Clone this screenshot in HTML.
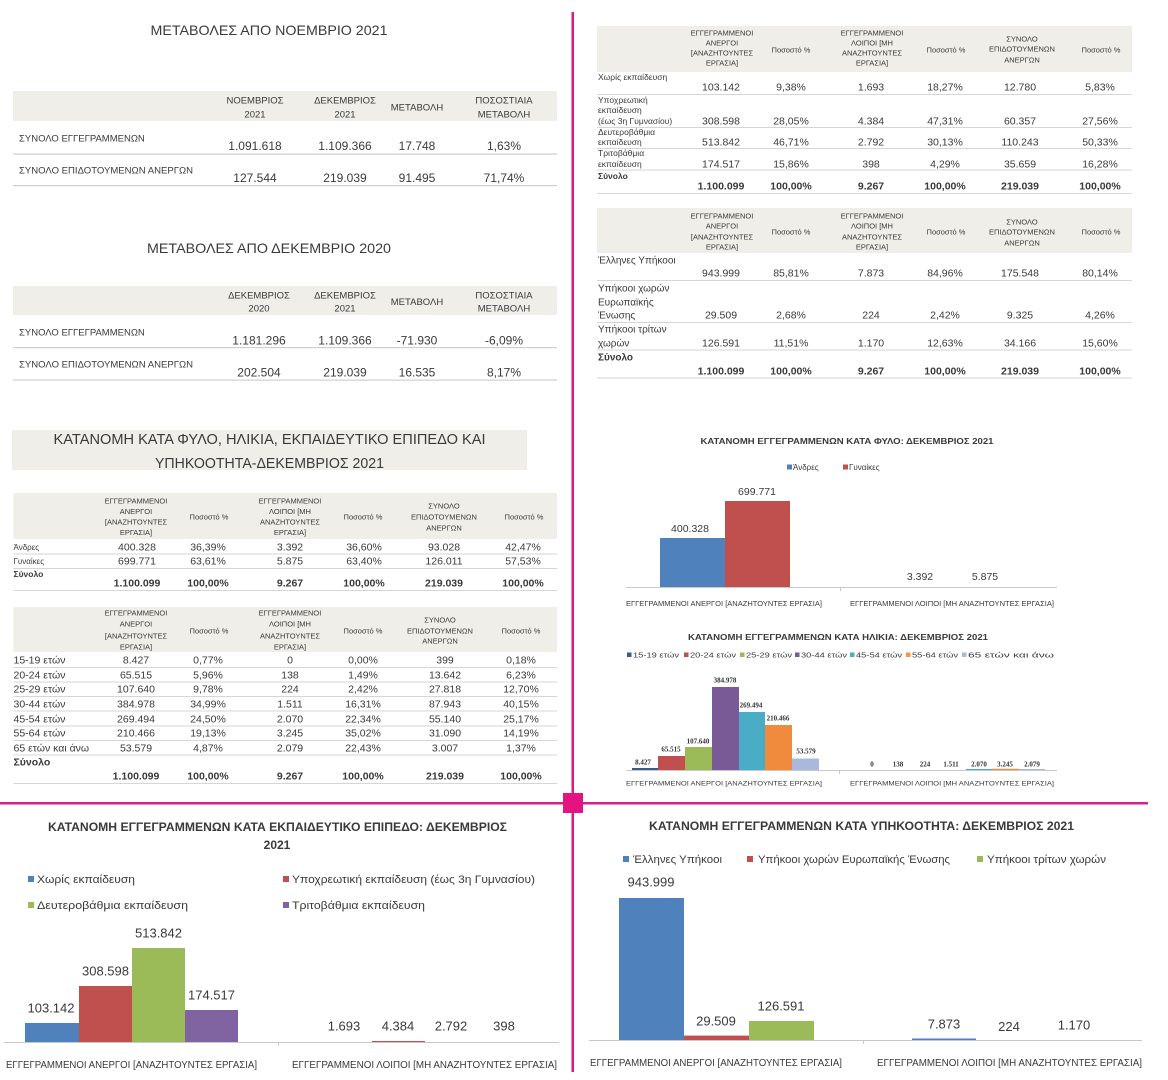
<!DOCTYPE html>
<html><head><meta charset="utf-8"><style>
html,body{margin:0;padding:0;background:#fff}
svg{display:block}
text{font-family:"Liberation Sans","DejaVu Sans",sans-serif;fill:#3a3a3a}
.c{text-anchor:middle}
.h{font-size:7.5px}
.v{font-size:10.5px}
.b{font-weight:bold}
.l{font-size:8.5px}
.s{font-family:"Liberation Serif","DejaVu Serif",serif;font-weight:bold;font-size:7px;fill:#333}
</style></head><body>
<svg width="1168" height="1080" viewBox="0 0 1168 1080" xmlns="http://www.w3.org/2000/svg">
<rect width="1168" height="1080" fill="#fff"/>

<!-- ===== TOP LEFT TABLE 1 ===== -->
<text x="269" y="35" class="c" font-size="14" textLength="237" lengthAdjust="spacingAndGlyphs">ΜΕΤΑΒΟΛΕΣ ΑΠΟ ΝΟΕΜΒΡΙΟ 2021</text>
<rect x="13" y="91" width="544" height="30" fill="#efeee8"/>
<g font-size="9.5" class="c">
<text x="255" y="103.5" class="c">ΝΟΕΜΒΡΙΟΣ</text><text x="255" y="117.5" class="c">2021</text>
<text x="345" y="103.5" class="c">ΔΕΚΕΜΒΡΙΟΣ</text><text x="345" y="117.5" class="c">2021</text>
<text x="417" y="110.5" class="c">ΜΕΤΑΒΟΛΗ</text>
<text x="504" y="103.5" class="c">ΠΟΣΟΣΤΙΑΙΑ</text><text x="504" y="117.5" class="c">ΜΕΤΑΒΟΛΗ</text>
</g>
<text x="19" y="141.5" font-size="9.5">ΣΥΝΟΛΟ ΕΓΓΕΓΡΑΜΜΕΝΩΝ</text>
<g font-size="12">
<text x="255" y="150" class="c">1.091.618</text><text x="345" y="150" class="c">1.109.366</text><text x="417" y="150" class="c">17.748</text><text x="504" y="150" class="c">1,63%</text>
</g>
<rect x="13" y="153.5" width="544" height="1.2" fill="#cfcfcf"/>
<text x="19" y="173.5" font-size="9.5" textLength="174" lengthAdjust="spacingAndGlyphs">ΣΥΝΟΛΟ ΕΠΙΔΟΤΟΥΜΕΝΩΝ ΑΝΕΡΓΩΝ</text>
<g font-size="12">
<text x="255" y="182" class="c">127.544</text><text x="345" y="182" class="c">219.039</text><text x="417" y="182" class="c">91.495</text><text x="504" y="182" class="c">71,74%</text>
</g>
<rect x="13" y="185" width="544" height="1.2" fill="#cfcfcf"/>

<!-- ===== TABLE 2 ===== -->
<text x="269" y="253" class="c" font-size="14" textLength="244" lengthAdjust="spacingAndGlyphs">ΜΕΤΑΒΟΛΕΣ ΑΠΟ ΔΕΚΕΜΒΡΙΟ 2020</text>
<rect x="13" y="286" width="544" height="29" fill="#efeee8"/>
<g font-size="9.5">
<text x="259" y="298.5" class="c">ΔΕΚΕΜΒΡΙΟΣ</text><text x="259" y="311.5" class="c">2020</text>
<text x="345" y="298.5" class="c">ΔΕΚΕΜΒΡΙΟΣ</text><text x="345" y="311.5" class="c">2021</text>
<text x="417" y="305" class="c">ΜΕΤΑΒΟΛΗ</text>
<text x="504" y="298.5" class="c">ΠΟΣΟΣΤΙΑΙΑ</text><text x="504" y="311.5" class="c">ΜΕΤΑΒΟΛΗ</text>
</g>
<text x="19" y="335.5" font-size="9.5">ΣΥΝΟΛΟ ΕΓΓΕΓΡΑΜΜΕΝΩΝ</text>
<g font-size="12">
<text x="259" y="344.3" class="c">1.181.296</text><text x="345" y="344.3" class="c">1.109.366</text><text x="417" y="344.3" class="c">-71.930</text><text x="504" y="344.3" class="c">-6,09%</text>
</g>
<rect x="13" y="347" width="544" height="1.2" fill="#cfcfcf"/>
<text x="19" y="367.5" font-size="9.5" textLength="174" lengthAdjust="spacingAndGlyphs">ΣΥΝΟΛΟ ΕΠΙΔΟΤΟΥΜΕΝΩΝ ΑΝΕΡΓΩΝ</text>
<g font-size="12">
<text x="259" y="376.3" class="c">202.504</text><text x="345" y="376.3" class="c">219.039</text><text x="417" y="376.3" class="c">16.535</text><text x="504" y="376.3" class="c">8,17%</text>
</g>
<rect x="13" y="379.5" width="544" height="1.2" fill="#cfcfcf"/>

<!-- ===== SECTION 3 TITLE ===== -->
<rect x="12" y="430" width="515" height="40" fill="#efeee8"/>
<text x="269.5" y="444" class="c" font-size="14.5" textLength="432" lengthAdjust="spacingAndGlyphs">ΚΑΤΑΝΟΜΗ ΚΑΤΑ ΦΥΛΟ, ΗΛΙΚΙΑ, ΕΚΠΑΙΔΕΥΤΙΚΟ ΕΠΙΠΕΔΟ ΚΑΙ</text>
<text x="269.5" y="468" class="c" font-size="14.5" textLength="229" lengthAdjust="spacingAndGlyphs">ΥΠΗΚΟΟΤΗΤΑ-ΔΕΚΕΜΒΡΙΟΣ 2021</text>

<!-- ===== TABLE A (sex) ===== -->
<rect x="13.5" y="493" width="543.5" height="46" fill="#efeee8"/>
<g class="h">
<text x="136" y="503.7" class="c">ΕΓΓΕΓΡΑΜΜΕΝΟΙ</text><text x="136" y="514.2" class="c">ΑΝΕΡΓΟΙ</text><text x="136" y="524.7" class="c">[ΑΝΑΖΗΤΟΥΝΤΕΣ</text><text x="136" y="535.2" class="c">ΕΡΓΑΣΙΑ]</text>
<text x="209" y="519.7" class="c">Ποσοστό %</text>
<text x="290" y="503.7" class="c">ΕΓΓΕΓΡΑΜΜΕΝΟΙ</text><text x="290" y="514.2" class="c">ΛΟΙΠΟΙ [ΜΗ</text><text x="290" y="524.7" class="c">ΑΝΑΖΗΤΟΥΝΤΕΣ</text><text x="290" y="535.2" class="c">ΕΡΓΑΣΙΑ]</text>
<text x="363" y="519.7" class="c">Ποσοστό %</text>
<text x="444" y="508.7" class="c">ΣΥΝΟΛΟ</text><text x="444" y="519.7" class="c">ΕΠΙΔΟΤΟΥΜΕΝΩΝ</text><text x="444" y="530.7" class="c">ΑΝΕΡΓΩΝ</text>
<text x="524" y="519.7" class="c">Ποσοστό %</text>
</g>
<text x="13.5" y="550" font-size="8">Άνδρες</text>
<g class="v">
<text x="137" y="550.7" class="c">400.328</text><text x="208" y="550.7" class="c">36,39%</text><text x="290" y="550.7" class="c">3.392</text><text x="364" y="550.7" class="c">36,60%</text><text x="444" y="550.7" class="c">93.028</text><text x="523" y="550.7" class="c">42,47%</text>
</g>
<rect x="13.5" y="553.5" width="543.5" height="1" fill="#d6d6d6"/>
<text x="13.5" y="564" font-size="8">Γυναίκες</text>
<g class="v">
<text x="137" y="564.7" class="c">699.771</text><text x="208" y="564.7" class="c">63,61%</text><text x="290" y="564.7" class="c">5.875</text><text x="364" y="564.7" class="c">63,40%</text><text x="444" y="564.7" class="c">126.011</text><text x="523" y="564.7" class="c">57,53%</text>
</g>
<rect x="13.5" y="568" width="543.5" height="1" fill="#d6d6d6"/>
<text x="13.5" y="577" font-size="8.5" class="b">Σύνολο</text>
<g class="v b">
<text x="137" y="586.7" class="c">1.100.099</text><text x="208" y="586.7" class="c">100,00%</text><text x="290" y="586.7" class="c">9.267</text><text x="364" y="586.7" class="c">100,00%</text><text x="444" y="586.7" class="c">219.039</text><text x="523" y="586.7" class="c">100,00%</text>
</g>
<rect x="13.5" y="590" width="543.5" height="1" fill="#d6d6d6"/>

<!-- ===== TABLE B (age) ===== -->
<rect x="13.5" y="607" width="543.5" height="45" fill="#efeee8"/>
<g class="h">
<text x="136" y="615.7" class="c">ΕΓΓΕΓΡΑΜΜΕΝΟΙ</text><text x="136" y="626.7" class="c">ΑΝΕΡΓΟΙ</text><text x="136" y="638.7" class="c">[ΑΝΑΖΗΤΟΥΝΤΕΣ</text><text x="136" y="649.7" class="c">ΕΡΓΑΣΙΑ]</text>
<text x="209" y="633.7" class="c">Ποσοστό %</text>
<text x="290" y="615.7" class="c">ΕΓΓΕΓΡΑΜΜΕΝΟΙ</text><text x="290" y="626.7" class="c">ΛΟΙΠΟΙ [ΜΗ</text><text x="290" y="638.7" class="c">ΑΝΑΖΗΤΟΥΝΤΕΣ</text><text x="290" y="649.7" class="c">ΕΡΓΑΣΙΑ]</text>
<text x="363" y="633.7" class="c">Ποσοστό %</text>
<text x="440" y="622.7" class="c">ΣΥΝΟΛΟ</text><text x="440" y="633.7" class="c">ΕΠΙΔΟΤΟΥΜΕΝΩΝ</text><text x="440" y="643.7" class="c">ΑΝΕΡΓΩΝ</text>
<text x="521" y="633.7" class="c">Ποσοστό %</text>
</g>
<g font-size="10.5">
<text x="13.5" y="663.7">15-19  ετών</text>
<text x="13.5" y="678.7">20-24  ετών</text>
<text x="13.5" y="692.7">25-29 ετών</text>
<text x="13.5" y="707.7">30-44  ετών</text>
<text x="13.5" y="722.7">45-54 ετών</text>
<text x="13.5" y="736.7">55-64 ετών</text>
<text x="13.5" y="751.7">65 ετών και άνω</text>
<text x="13.5" y="765.7" class="b">Σύνολο</text>
</g>
<g class="v">
<text x="136" y="663.7" class="c">8.427</text><text x="208" y="663.7" class="c">0,77%</text><text x="290" y="663.7" class="c">0</text><text x="363" y="663.7" class="c">0,00%</text><text x="445" y="663.7" class="c">399</text><text x="521" y="663.7" class="c">0,18%</text>
<text x="136" y="678.7" class="c">65.515</text><text x="208" y="678.7" class="c">5,96%</text><text x="290" y="678.7" class="c">138</text><text x="363" y="678.7" class="c">1,49%</text><text x="445" y="678.7" class="c">13.642</text><text x="521" y="678.7" class="c">6,23%</text>
<text x="136" y="692.7" class="c">107.640</text><text x="208" y="692.7" class="c">9,78%</text><text x="290" y="692.7" class="c">224</text><text x="363" y="692.7" class="c">2,42%</text><text x="445" y="692.7" class="c">27.818</text><text x="521" y="692.7" class="c">12,70%</text>
<text x="136" y="707.7" class="c">384.978</text><text x="208" y="707.7" class="c">34,99%</text><text x="290" y="707.7" class="c">1.511</text><text x="363" y="707.7" class="c">16,31%</text><text x="445" y="707.7" class="c">87.943</text><text x="521" y="707.7" class="c">40,15%</text>
<text x="136" y="722.7" class="c">269.494</text><text x="208" y="722.7" class="c">24,50%</text><text x="290" y="722.7" class="c">2.070</text><text x="363" y="722.7" class="c">22,34%</text><text x="445" y="722.7" class="c">55.140</text><text x="521" y="722.7" class="c">25,17%</text>
<text x="136" y="736.7" class="c">210.466</text><text x="208" y="736.7" class="c">19,13%</text><text x="290" y="736.7" class="c">3.245</text><text x="363" y="736.7" class="c">35,02%</text><text x="445" y="736.7" class="c">31.090</text><text x="521" y="736.7" class="c">14,19%</text>
<text x="136" y="751.7" class="c">53.579</text><text x="208" y="751.7" class="c">4,87%</text><text x="290" y="751.7" class="c">2.079</text><text x="363" y="751.7" class="c">22,43%</text><text x="445" y="751.7" class="c">3.007</text><text x="521" y="751.7" class="c">1,37%</text>
</g>
<g class="v b">
<text x="136" y="779.7" class="c">1.100.099</text><text x="208" y="779.7" class="c">100,00%</text><text x="290" y="779.7" class="c">9.267</text><text x="363" y="779.7" class="c">100,00%</text><text x="445" y="779.7" class="c">219.039</text><text x="521" y="779.7" class="c">100,00%</text>
</g>
<g fill="#d6d6d6">
<rect x="13.5" y="667" width="543.5" height="1"/><rect x="13.5" y="681.5" width="543.5" height="1"/><rect x="13.5" y="696" width="543.5" height="1"/><rect x="13.5" y="710.5" width="543.5" height="1"/><rect x="13.5" y="725.5" width="543.5" height="1"/><rect x="13.5" y="740" width="543.5" height="1"/><rect x="13.5" y="754.5" width="543.5" height="1"/><rect x="13.5" y="783" width="543.5" height="1"/>
</g>

<!-- ===== TOP RIGHT TABLE R1 (education) ===== -->
<rect x="597" y="26" width="535" height="46" fill="#efeee8"/>
<g class="h">
<text x="722" y="35.7" class="c">ΕΓΓΕΓΡΑΜΜΕΝΟΙ</text><text x="722" y="45.7" class="c">ΑΝΕΡΓΟΙ</text><text x="722" y="55.7" class="c">[ΑΝΑΖΗΤΟΥΝΤΕΣ</text><text x="722" y="65.7" class="c">ΕΡΓΑΣΙΑ]</text>
<text x="791" y="52.7" class="c">Ποσοστό %</text>
<text x="872" y="35.7" class="c">ΕΓΓΕΓΡΑΜΜΕΝΟΙ</text><text x="872" y="45.7" class="c">ΛΟΙΠΟΙ [ΜΗ</text><text x="872" y="55.7" class="c">ΑΝΑΖΗΤΟΥΝΤΕΣ</text><text x="872" y="65.7" class="c">ΕΡΓΑΣΙΑ]</text>
<text x="946" y="52.7" class="c">Ποσοστό %</text>
<text x="1022" y="41.7" class="c">ΣΥΝΟΛΟ</text><text x="1022" y="51.7" class="c">ΕΠΙΔΟΤΟΥΜΕΝΩΝ</text><text x="1022" y="62.7" class="c">ΑΝΕΡΓΩΝ</text>
<text x="1101" y="52.7" class="c">Ποσοστό %</text>
</g>
<g class="l">
<text x="598" y="80">Χωρίς εκπαίδευση</text>
<text x="598" y="103">Υποχρεωτική</text><text x="598" y="113">εκπαίδευση</text><text x="598" y="124">(έως 3η Γυμνασίου)</text>
<text x="598" y="135">Δευτεροβάθμια</text><text x="598" y="145">εκπαίδευση</text>
<text x="598" y="156">Τριτοβάθμια</text><text x="598" y="167">εκπαίδευση</text>
<text x="598" y="179" class="b">Σύνολο</text>
</g>
<g class="v">
<text x="721" y="90.7" class="c">103.142</text><text x="791" y="90.7" class="c">9,38%</text><text x="871" y="90.7" class="c">1.693</text><text x="945" y="90.7" class="c">18,27%</text><text x="1020" y="90.7" class="c">12.780</text><text x="1100" y="90.7" class="c">5,83%</text>
<text x="721" y="124.7" class="c">308.598</text><text x="791" y="124.7" class="c">28,05%</text><text x="871" y="124.7" class="c">4.384</text><text x="945" y="124.7" class="c">47,31%</text><text x="1020" y="124.7" class="c">60.357</text><text x="1100" y="124.7" class="c">27,56%</text>
<text x="721" y="145.7" class="c">513.842</text><text x="791" y="145.7" class="c">46,71%</text><text x="871" y="145.7" class="c">2.792</text><text x="945" y="145.7" class="c">30,13%</text><text x="1020" y="145.7" class="c">110.243</text><text x="1100" y="145.7" class="c">50,33%</text>
<text x="721" y="167.7" class="c">174.517</text><text x="791" y="167.7" class="c">15,86%</text><text x="871" y="167.7" class="c">398</text><text x="945" y="167.7" class="c">4,29%</text><text x="1020" y="167.7" class="c">35.659</text><text x="1100" y="167.7" class="c">16,28%</text>
</g>
<g class="v b">
<text x="721" y="189.7" class="c">1.100.099</text><text x="791" y="189.7" class="c">100,00%</text><text x="871" y="189.7" class="c">9.267</text><text x="945" y="189.7" class="c">100,00%</text><text x="1020" y="189.7" class="c">219.039</text><text x="1100" y="189.7" class="c">100,00%</text>
</g>
<g fill="#d6d6d6">
<rect x="597" y="94" width="535" height="1"/><rect x="597" y="127" width="535" height="1"/><rect x="597" y="148" width="535" height="1"/><rect x="597" y="169.5" width="535" height="1"/><rect x="597" y="193" width="535" height="1"/>
</g>

<!-- ===== TABLE R2 (nationality) ===== -->
<rect x="597" y="208" width="535" height="45" fill="#efeee8"/>
<g class="h">
<text x="722" y="218.7" class="c">ΕΓΓΕΓΡΑΜΜΕΝΟΙ</text><text x="722" y="228.7" class="c">ΑΝΕΡΓΟΙ</text><text x="722" y="239.7" class="c">[ΑΝΑΖΗΤΟΥΝΤΕΣ</text><text x="722" y="249.7" class="c">ΕΡΓΑΣΙΑ]</text>
<text x="791" y="234.7" class="c">Ποσοστό %</text>
<text x="872" y="218.7" class="c">ΕΓΓΕΓΡΑΜΜΕΝΟΙ</text><text x="872" y="228.7" class="c">ΛΟΙΠΟΙ [ΜΗ</text><text x="872" y="239.7" class="c">ΑΝΑΖΗΤΟΥΝΤΕΣ</text><text x="872" y="249.7" class="c">ΕΡΓΑΣΙΑ]</text>
<text x="946" y="234.7" class="c">Ποσοστό %</text>
<text x="1022" y="224.7" class="c">ΣΥΝΟΛΟ</text><text x="1022" y="234.7" class="c">ΕΠΙΔΟΤΟΥΜΕΝΩΝ</text><text x="1022" y="245.7" class="c">ΑΝΕΡΓΩΝ</text>
<text x="1101" y="234.7" class="c">Ποσοστό %</text>
</g>
<g font-size="10">
<text x="598" y="263.5">Έλληνες Υπήκοοι</text>
<text x="598" y="291.5">Υπήκοοι χωρών</text><text x="598" y="305.5">Ευρωπαϊκής</text><text x="598" y="318.5">Ένωσης</text>
<text x="598" y="332.5">Υπήκοοι τρίτων</text><text x="598" y="346.5">χωρών</text>
<text x="598" y="360.5" class="b">Σύνολο</text>
</g>
<g class="v">
<text x="721" y="276.7" class="c">943.999</text><text x="791" y="276.7" class="c">85,81%</text><text x="871" y="276.7" class="c">7.873</text><text x="945" y="276.7" class="c">84,96%</text><text x="1020" y="276.7" class="c">175.548</text><text x="1100" y="276.7" class="c">80,14%</text>
<text x="721" y="318.7" class="c">29.509</text><text x="791" y="318.7" class="c">2,68%</text><text x="871" y="318.7" class="c">224</text><text x="945" y="318.7" class="c">2,42%</text><text x="1020" y="318.7" class="c">9.325</text><text x="1100" y="318.7" class="c">4,26%</text>
<text x="721" y="346.7" class="c">126.591</text><text x="791" y="346.7" class="c">11,51%</text><text x="871" y="346.7" class="c">1.170</text><text x="945" y="346.7" class="c">12,63%</text><text x="1020" y="346.7" class="c">34.166</text><text x="1100" y="346.7" class="c">15,60%</text>
</g>
<g class="v b">
<text x="721" y="374.7" class="c">1.100.099</text><text x="791" y="374.7" class="c">100,00%</text><text x="871" y="374.7" class="c">9.267</text><text x="945" y="374.7" class="c">100,00%</text><text x="1020" y="374.7" class="c">219.039</text><text x="1100" y="374.7" class="c">100,00%</text>
</g>
<g fill="#d6d6d6">
<rect x="597" y="280" width="535" height="1"/><rect x="597" y="322" width="535" height="1"/><rect x="597" y="349.5" width="535" height="1"/><rect x="597" y="377.5" width="535" height="1"/>
</g>

<!-- ===== CHART: SEX ===== -->
<text x="847" y="444" class="c b" font-size="8.5" textLength="293" lengthAdjust="spacingAndGlyphs">ΚΑΤΑΝΟΜΗ ΕΓΓΕΓΡΑΜΜΕΝΩΝ ΚΑΤΑ ΦΥΛΟ: ΔΕΚΕΜΒΡΙΟΣ 2021</text>
<rect x="787" y="464.5" width="5" height="5" fill="#4f81bd"/>
<text x="793" y="470" font-size="8">Άνδρες</text>
<rect x="843" y="464.5" width="5" height="5" fill="#c0504d"/>
<text x="849" y="470" font-size="8">Γυναίκες</text>
<rect x="660" y="538" width="65" height="49" fill="#4f81bd"/>
<rect x="725" y="501" width="65" height="86" fill="#c0504d"/>
<text x="690" y="532" class="c" font-size="10.5" fill="#444">400.328</text>
<text x="757" y="495" class="c" font-size="10.5">699.771</text>
<text x="920" y="580" class="c" font-size="10.5">3.392</text>
<text x="985" y="580" class="c" font-size="10.5">5.875</text>
<rect x="626" y="587" width="431" height="1" fill="#c8c8c8"/>
<rect x="840" y="587" width="1" height="4" fill="#c8c8c8"/>
<text x="626" y="606" font-size="7.5" textLength="196" lengthAdjust="spacingAndGlyphs">ΕΓΓΕΓΡΑΜΜΕΝΟΙ ΑΝΕΡΓΟΙ [ΑΝΑΖΗΤΟΥΝΤΕΣ ΕΡΓΑΣΙΑ]</text>
<text x="850" y="606" font-size="7.5" textLength="204" lengthAdjust="spacingAndGlyphs">ΕΓΓΕΓΡΑΜΜΕΝΟΙ ΛΟΙΠΟΙ [ΜΗ ΑΝΑΖΗΤΟΥΝΤΕΣ ΕΡΓΑΣΙΑ]</text>

<!-- ===== CHART: AGE ===== -->
<text x="838" y="640" class="c b" font-size="8" textLength="300" lengthAdjust="spacingAndGlyphs">ΚΑΤΑΝΟΜΗ ΕΓΓΕΓΡΑΜΜΕΝΩΝ ΚΑΤΑ ΗΛΙΚΙΑ: ΔΕΚΕΜΒΡΙΟΣ  2021</text>
<g font-size="7">
<rect x="627" y="652.5" width="4.5" height="4.5" fill="#3b5b87"/><text x="633" y="657.5" textLength="46" lengthAdjust="spacingAndGlyphs">15-19 ετών</text>
<rect x="684" y="652.5" width="4.5" height="4.5" fill="#c0504d"/><text x="690" y="657.5" textLength="46" lengthAdjust="spacingAndGlyphs">20-24 ετών</text>
<rect x="740" y="652.5" width="4.5" height="4.5" fill="#9bbb59"/><text x="746" y="657.5" textLength="46" lengthAdjust="spacingAndGlyphs">25-29 ετών</text>
<rect x="795" y="652.5" width="4.5" height="4.5" fill="#7a5a96"/><text x="801" y="657.5" textLength="46" lengthAdjust="spacingAndGlyphs">30-44 ετών</text>
<rect x="850" y="652.5" width="4.5" height="4.5" fill="#4bacc6"/><text x="856" y="657.5" textLength="46" lengthAdjust="spacingAndGlyphs">45-54 ετών</text>
<rect x="906" y="652.5" width="4.5" height="4.5" fill="#f79646"/><text x="912" y="657.5" textLength="46" lengthAdjust="spacingAndGlyphs">55-64 ετών</text>
<rect x="962" y="652.5" width="4.5" height="4.5" fill="#a9b9dc"/><text x="968" y="657.5" textLength="86" lengthAdjust="spacingAndGlyphs">65 ετών και άνω</text>
</g>
<rect x="632" y="768" width="26" height="2" fill="#3b5b87"/>
<rect x="658" y="756" width="27" height="14" fill="#c0504d"/>
<rect x="685" y="747" width="27" height="23" fill="#9bbb59"/>
<rect x="712" y="687" width="27" height="83" fill="#7a5a96"/>
<rect x="739" y="712" width="26" height="58" fill="#4bacc6"/>
<rect x="765" y="725" width="27" height="45" fill="#f08a3c"/>
<rect x="792" y="758.5" width="27" height="11.5" fill="#a9b9dc"/>
<rect x="966" y="769" width="26" height="1" fill="#4bacc6"/>
<rect x="992" y="768.8" width="27" height="1.2" fill="#f08a3c"/>
<rect x="1019" y="769" width="26" height="1" fill="#a9b9dc"/>
<text x="643" y="764.5" class="c s">8.427</text>
<text x="671" y="751.5" class="c s">65.515</text>
<text x="698" y="743.5" class="c s">107.640</text>
<text x="725" y="682.5" class="c s">384.978</text>
<text x="751" y="707.5" class="c s">269.494</text>
<text x="778" y="720.5" class="c s">210.466</text>
<text x="806" y="753.5" class="c s">53.579</text>
<text x="872" y="766.5" class="c s">0</text>
<text x="898" y="766.5" class="c s">138</text>
<text x="925" y="766.5" class="c s">224</text>
<text x="951" y="766.5" class="c s">1.511</text>
<text x="979" y="766.5" class="c s">2.070</text>
<text x="1005" y="766.5" class="c s">3.245</text>
<text x="1032" y="766.5" class="c s">2.079</text>
<rect x="626" y="770" width="431" height="1" fill="#c8c8c8"/>
<rect x="839" y="770" width="1" height="4" fill="#c8c8c8"/>
<text x="626" y="785.5" font-size="6.8" textLength="196" lengthAdjust="spacingAndGlyphs">ΕΓΓΕΓΡΑΜΜΕΝΟΙ ΑΝΕΡΓΟΙ [ΑΝΑΖΗΤΟΥΝΤΕΣ ΕΡΓΑΣΙΑ]</text>
<text x="850" y="785.5" font-size="6.8" textLength="204" lengthAdjust="spacingAndGlyphs">ΕΓΓΕΓΡΑΜΜΕΝΟΙ ΛΟΙΠΟΙ [ΜΗ ΑΝΑΖΗΤΟΥΝΤΕΣ ΕΡΓΑΣΙΑ]</text>

<!-- ===== CHART: EDUCATION (bottom-left) ===== -->
<text x="277.5" y="831" class="c b" font-size="12" textLength="459" lengthAdjust="spacingAndGlyphs">ΚΑΤΑΝΟΜΗ ΕΓΓΕΓΡΑΜΜΕΝΩΝ ΚΑΤΑ ΕΚΠΑΙΔΕΥΤΙΚΟ ΕΠΙΠΕΔΟ: ΔΕΚΕΜΒΡΙΟΣ</text>
<text x="277" y="849" class="c b" font-size="12">2021</text>
<g font-size="11">
<rect x="28" y="876" width="6" height="6" fill="#4f81bd"/><text x="37" y="883" textLength="98" lengthAdjust="spacingAndGlyphs">Χωρίς εκπαίδευση</text>
<rect x="283" y="876" width="6" height="6" fill="#c0504d"/><text x="292" y="883" textLength="243" lengthAdjust="spacingAndGlyphs">Υποχρεωτική εκπαίδευση (έως 3η Γυμνασίου)</text>
<rect x="28" y="902" width="6" height="6" fill="#9bbb59"/><text x="37" y="909" textLength="151" lengthAdjust="spacingAndGlyphs">Δευτεροβάθμια εκπαίδευση</text>
<rect x="283" y="902" width="6" height="6" fill="#8064a2"/><text x="292" y="909" textLength="133" lengthAdjust="spacingAndGlyphs">Τριτοβάθμια εκπαίδευση</text>
</g>
<rect x="25" y="1023" width="54" height="19" fill="#4f81bd"/>
<rect x="79" y="986" width="53" height="56" fill="#c0504d"/>
<rect x="132" y="948" width="53" height="94" fill="#9bbb59"/>
<rect x="185" y="1010" width="53" height="32" fill="#8064a2"/>
<rect x="372" y="1041" width="53" height="1.2" fill="#c0504d"/>
<g font-size="13">
<text x="51" y="1012.5" class="c">103.142</text>
<text x="105.5" y="975.5" class="c">308.598</text>
<text x="158.5" y="937.5" class="c">513.842</text>
<text x="211.5" y="999.5" class="c">174.517</text>
<text x="344" y="1030.5" class="c">1.693</text>
<text x="398" y="1030.5" class="c">4.384</text>
<text x="451" y="1030.5" class="c">2.792</text>
<text x="504" y="1030.5" class="c">398</text>
</g>
<rect x="4" y="1042" width="555" height="1" fill="#c8c8c8"/>
<rect x="278" y="1042" width="1" height="4" fill="#c8c8c8"/>
<text x="6" y="1068" font-size="10.5" textLength="251" lengthAdjust="spacingAndGlyphs">ΕΓΓΕΓΡΑΜΜΕΝΟΙ ΑΝΕΡΓΟΙ [ΑΝΑΖΗΤΟΥΝΤΕΣ ΕΡΓΑΣΙΑ]</text>
<text x="292" y="1068" font-size="10.5" textLength="265" lengthAdjust="spacingAndGlyphs">ΕΓΓΕΓΡΑΜΜΕΝΟΙ ΛΟΙΠΟΙ [ΜΗ ΑΝΑΖΗΤΟΥΝΤΕΣ ΕΡΓΑΣΙΑ]</text>

<!-- ===== CHART: NATIONALITY (bottom-right) ===== -->
<text x="861.5" y="830" class="c b" font-size="12" textLength="425" lengthAdjust="spacingAndGlyphs">ΚΑΤΑΝΟΜΗ ΕΓΓΕΓΡΑΜΜΕΝΩΝ ΚΑΤΑ ΥΠΗΚΟΟΤΗΤΑ: ΔΕΚΕΜΒΡΙΟΣ 2021</text>
<g font-size="11">
<rect x="623" y="856" width="6" height="6" fill="#4f81bd"/><text x="633" y="863" textLength="89" lengthAdjust="spacingAndGlyphs">Έλληνες Υπήκοοι</text>
<rect x="747" y="856" width="6" height="6" fill="#c0504d"/><text x="758" y="863" textLength="192" lengthAdjust="spacingAndGlyphs">Υπήκοοι χωρών Ευρωπαϊκής Ένωσης</text>
<rect x="977" y="856" width="6" height="6" fill="#9bbb59"/><text x="987" y="863" textLength="119" lengthAdjust="spacingAndGlyphs">Υπήκοοι τρίτων χωρών</text>
</g>
<rect x="619" y="898" width="65" height="142" fill="#4f81bd"/>
<rect x="684" y="1035.6" width="65" height="4.4" fill="#c0504d"/>
<rect x="749" y="1021" width="65" height="19" fill="#9bbb59"/>
<rect x="912" y="1038.5" width="64" height="1.5" fill="#4f81bd"/>
<g font-size="13">
<text x="651" y="886.5" class="c">943.999</text>
<text x="716" y="1025.5" class="c">29.509</text>
<text x="781" y="1010.5" class="c">126.591</text>
<text x="944" y="1028.5" class="c">7.873</text>
<text x="1009" y="1031" class="c">224</text>
<text x="1074" y="1029.5" class="c">1.170</text>
</g>
<rect x="589" y="1040" width="553" height="1" fill="#c8c8c8"/>
<rect x="863" y="1040" width="1" height="4" fill="#c8c8c8"/>
<text x="590" y="1066" font-size="10.5" textLength="252" lengthAdjust="spacingAndGlyphs">ΕΓΓΕΓΡΑΜΜΕΝΟΙ ΑΝΕΡΓΟΙ [ΑΝΑΖΗΤΟΥΝΤΕΣ ΕΡΓΑΣΙΑ]</text>
<text x="877" y="1066" font-size="10.5" textLength="265" lengthAdjust="spacingAndGlyphs">ΕΓΓΕΓΡΑΜΜΕΝΟΙ ΛΟΙΠΟΙ [ΜΗ ΑΝΑΖΗΤΟΥΝΤΕΣ ΕΡΓΑΣΙΑ]</text>

<!-- ===== MAGENTA DIVIDERS ===== -->
<rect x="571.5" y="12" width="2.5" height="1060" fill="#dc1a84"/>
<rect x="0" y="802" width="1148" height="2.5" fill="#d4208a"/>
<rect x="563" y="793" width="20" height="20" fill="#e5137f"/>
</svg>
</body></html>
